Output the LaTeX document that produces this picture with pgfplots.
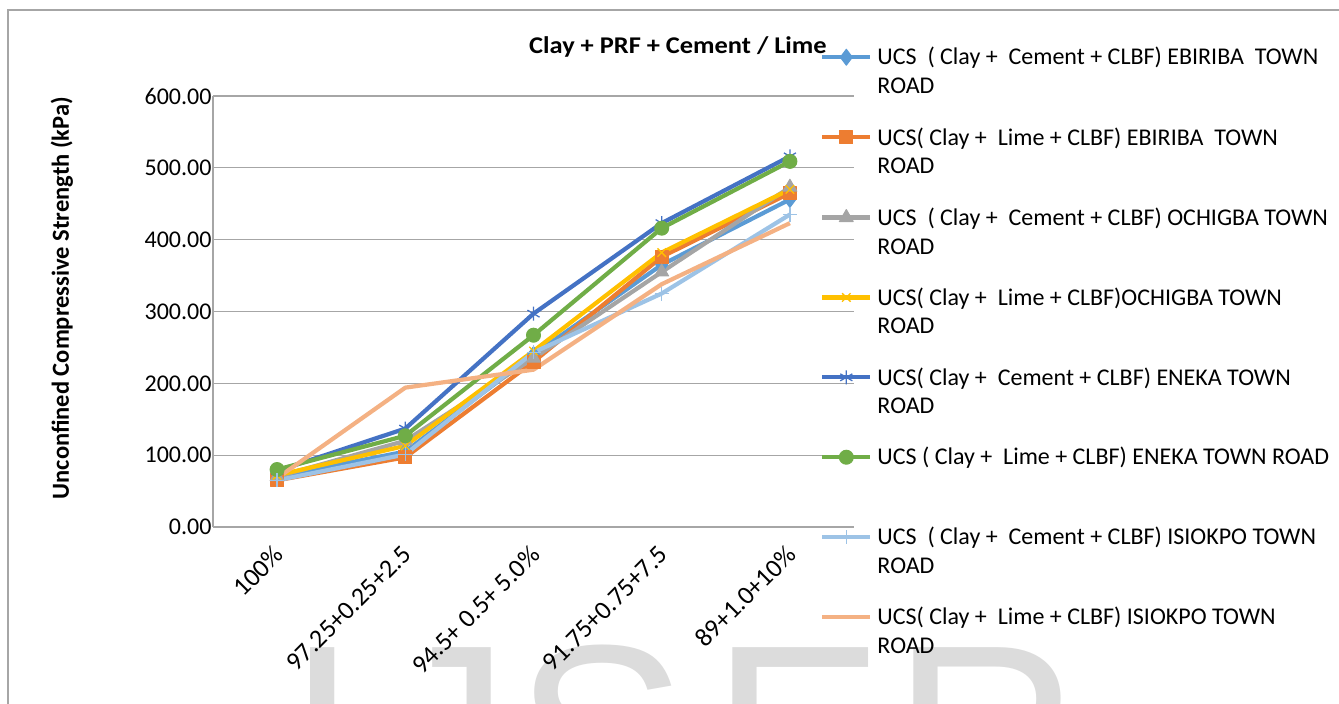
\documentclass[border=0pt]{standalone}
\usepackage{pgfplots}
\pgfplotsset{compat=1.18}
\usepackage{fontspec}
\setmainfont{Carlito}
\newfontfamily\wmfont{Liberation Sans}
\definecolor{s1}{HTML}{5B9BD5}
\definecolor{s2}{HTML}{ED7D31}
\definecolor{s3}{HTML}{A5A5A5}
\definecolor{s4}{HTML}{FFC000}
\definecolor{s5}{HTML}{4472C4}
\definecolor{s6}{HTML}{70AD47}
\definecolor{s7}{HTML}{9DC3E6}
\definecolor{s8}{HTML}{F4B183}
\definecolor{gridc}{HTML}{A6A6A6}
\definecolor{wm}{HTML}{DCDCDC}
\newcommand\lt[1]{\raisebox{0pt}[15.5pt][0pt]{\begin{tabular}[t]{@{}l@{}}#1\end{tabular}}}
\begin{document}
\begin{tikzpicture}[x=1pt,y=1pt]
\useasboundingbox (0,0) rectangle (1339,704);
\clip (0,0) rectangle (1339,704);
\begin{scope}[every node/.style={anchor=base west, inner sep=0pt, text=wm, font=\wmfont\fontsize{260}{260}\selectfont}]
\node at (286,-122) {I};
\node at (380,-122) {J};
\node at (514,-122) {S};
\node at (711,-122) {E};
\node at (892,-122) {R};
\end{scope}
\draw[gridc, line width=1.3pt] (1345,694) -- (8,694) -- (8,-5);
\begin{axis}[
  at={(213pt,177pt)}, anchor=south west,
  scale only axis, width=641pt, height=431pt,
  xmin=-0.5, xmax=4.5, ymin=0, ymax=600,
  xtick={0,1,2,3,4},
  xticklabels={100\%, 97.25+0.25+2.5, 94.5+ 0.5+ 5.0\%, 91.75+0.75+7.5, 89+1.0+10\%},
  ytick={0,100,200,300,400,500,600},
  /pgf/number format/assume math mode=true,
  yticklabel={\pgfmathprintnumber[fixed,fixed zerofill,precision=2]{\tick}},
  axis x line*=bottom, axis y line*=left,
  axis line style={draw=gridc, line width=1.3pt},
  major tick length=0pt, tick style={draw=none},
  ymajorgrids, grid style={draw=gridc, line width=1.3pt},
  yticklabel style={font=\fontsize{24}{28.8}\selectfont, anchor=east, xshift=2pt},
  xticklabel style={font=\fontsize{26}{31}\selectfont, xshift=4pt, yshift=-21pt, rotate=45, anchor=east},
  ylabel={Unconfined Compressive Strength (kPa)},
  ylabel style={font=\bfseries\fontsize{24.5}{29}\selectfont, at={(axis description cs:-0.2356,0.531)}, anchor=center},
  title={\scalebox{1.1}[1]{Clay + PRF + Cement / Lime}},
  title style={font=\bfseries\fontsize{24}{28.8}\selectfont, at={(axis description cs:0.7254,1.0858)}, anchor=base},
  clip=false,
  every axis plot/.append style={line width=4.2pt, line join=round},
  legend image code/.code={\draw[mark repeat=2,mark phase=2] plot coordinates {(0pt,0pt) (24pt,0pt) (48pt,0pt)};},
  legend cell align=left,
  legend style={at={(axis description cs:0.947,1.109)}, anchor=north west, draw=none, fill=none, inner sep=0pt,
    font=\fontsize{24}{28.8}\selectfont, nodes={inner sep=0pt, text depth=0pt}, row sep=64.4pt, column sep=5pt},
]
\addplot[color=s1, mark=diamond*, mark size=8pt, mark options={solid, line width=1pt}] coordinates {(0,70) (1,105) (2,240) (3,365) (4,456)};
\addlegendentry{\lt{UCS\ \ ( Clay +\ \ Cement + CLBF) EBIRIBA\ \ TOWN\\ROAD}}
\addplot[color=s2, mark=square*, mark size=6.5pt, mark options={solid, line width=1pt}] coordinates {(0,65) (1,97) (2,230) (3,376) (4,465)};
\addlegendentry{\lt{UCS( Clay +\ \ Lime + CLBF) EBIRIBA\ \ TOWN\\ROAD}}
\addplot[color=s3, mark=triangle*, mark size=8pt, mark options={solid, line width=1pt}] coordinates {(0,70) (1,120) (2,235) (3,355) (4,473)};
\addlegendentry{\lt{UCS\ \ ( Clay +\ \ Cement + CLBF) OCHIGBA TOWN\\ROAD}}
\addplot[color=s4, mark=x, mark size=6pt, mark options={solid, line width=1.3pt}] coordinates {(0,72) (1,113) (2,245) (3,382) (4,470)};
\addlegendentry{\lt{UCS( Clay +\ \ Lime + CLBF)OCHIGBA TOWN\\ROAD}}
\addplot[color=s5, mark=asterisk, mark size=7pt, mark options={solid, line width=1.3pt}] coordinates {(0,78) (1,137) (2,297) (3,423) (4,516)};
\addlegendentry{\lt{UCS( Clay +\ \ Cement + CLBF) ENEKA TOWN\\ROAD}}
\addplot[color=s6, mark=*, mark size=7pt, mark options={solid, line width=1pt}] coordinates {(0,80) (1,127) (2,267) (3,416) (4,509)};
\addlegendentry{\lt{UCS ( Clay +\ \ Lime + CLBF) ENEKA TOWN ROAD}}
\addplot[color=s7, mark=+, mark size=7pt, mark options={solid, line width=1.3pt}] coordinates {(0,65) (1,101) (2,243) (3,325) (4,435)};
\addlegendentry{\lt{UCS\ \ ( Clay +\ \ Cement + CLBF) ISIOKPO TOWN\\ROAD}}
\addplot[color=s8, no marks] coordinates {(0,68) (1,194) (2,219) (3,338) (4,423)};
\addlegendentry{\lt{UCS( Clay +\ \ Lime + CLBF) ISIOKPO TOWN\\ROAD}}
\end{axis}
\end{tikzpicture}
\end{document}
